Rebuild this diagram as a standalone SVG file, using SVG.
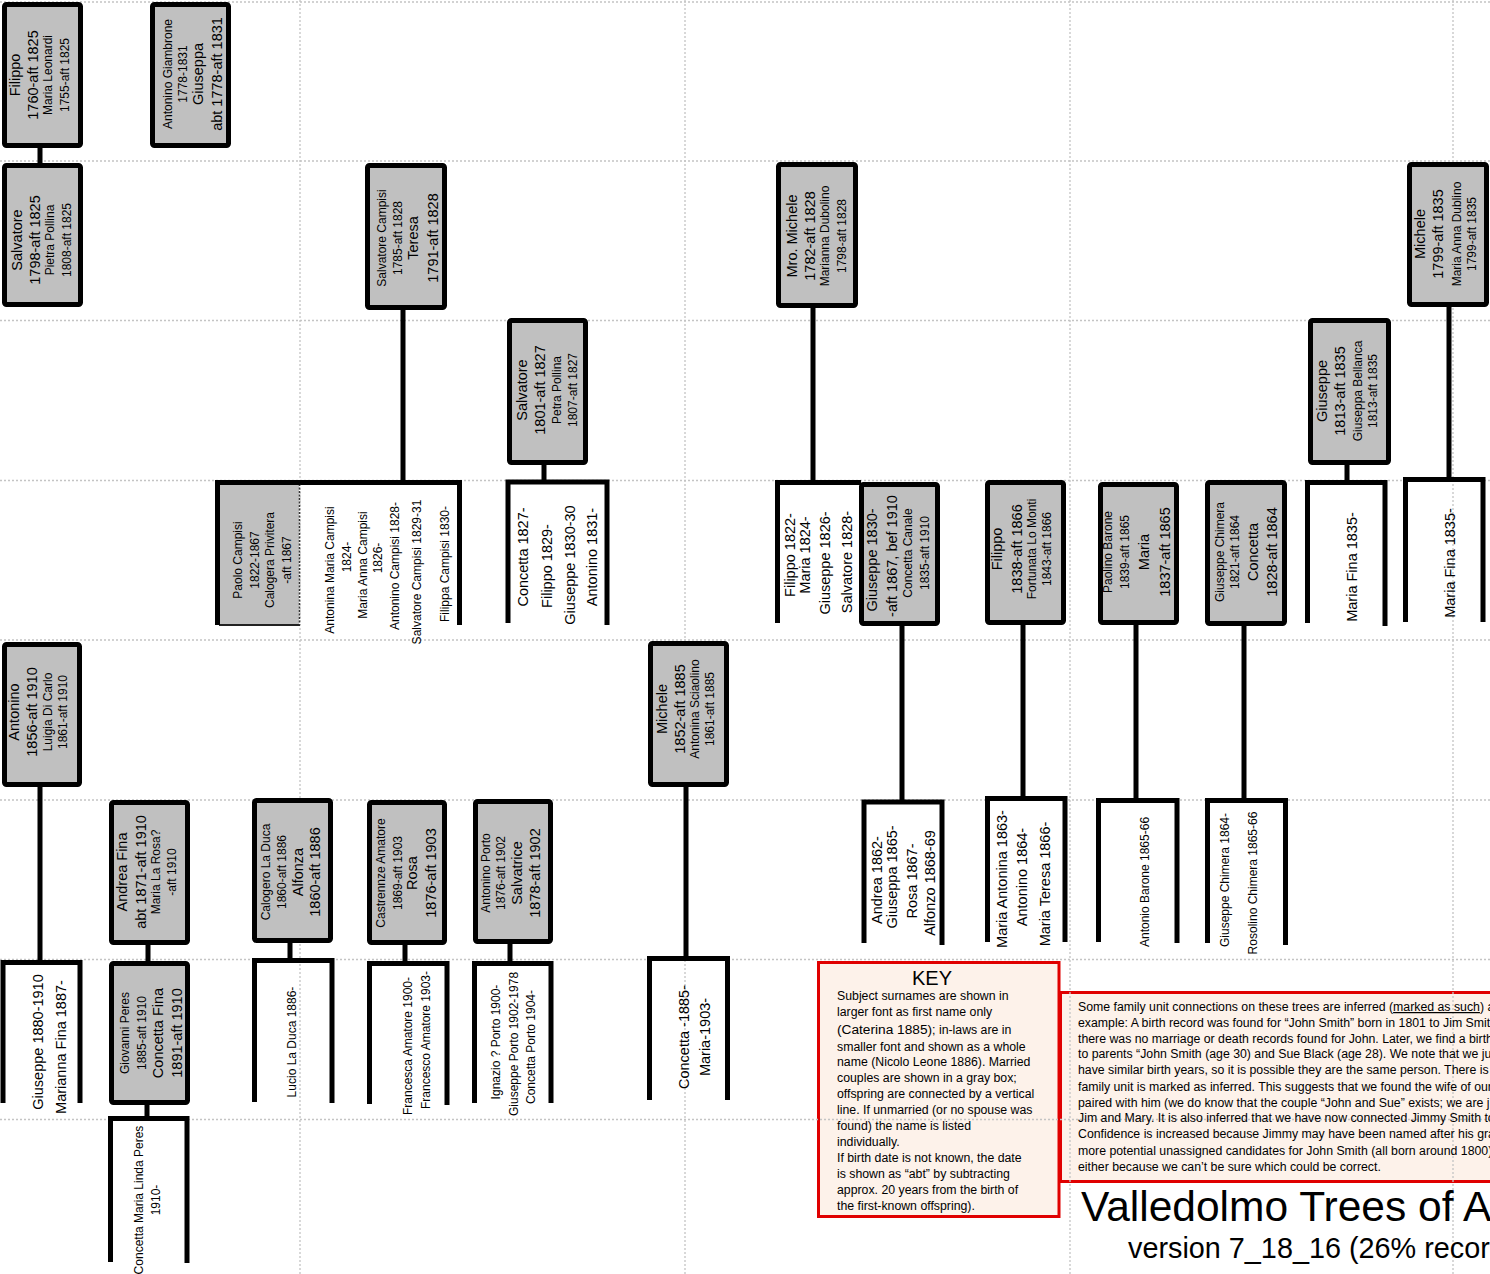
<svg xmlns="http://www.w3.org/2000/svg" width="1490" height="1274" viewBox="0 0 1490 1274">
<style>
.grid{stroke:#c4c4c4;stroke-width:1.3;stroke-dasharray:2 2;fill:none}
.box{fill:#c0c0c0;stroke:#000;stroke-width:5}
.c{stroke:#000;stroke-width:5;fill:none;stroke-linejoin:miter}
text{font-family:"Liberation Sans",Arial,sans-serif;fill:#000}
.L{font-size:14.5px;text-anchor:middle}
.S{font-size:12px;text-anchor:middle}
.k{font-size:12.3px}
.panel{fill:#fdf2ea;stroke:#e00000;stroke-width:3}
</style>
<rect width="1490" height="1274" fill="#fff"/>
<g id="key-panels">
<rect class="panel" x="818.5" y="962.5" width="240.5" height="254"/>
<rect class="panel" x="1060.5" y="992.5" width="440" height="189"/>
</g>
<g id="grid">
<path class="grid" d="M0 2H1490M0 161H1490M0 320.5H1490M0 480.5H1490M0 640H1490M0 800H1490M0 959.5H1490M0 1119.5H1490"/>
<path class="grid" d="M300 0V1274M685 0V1274M1070 0V1274M1453 0V1274"/>
</g>
<g id="key-text">
<text x="932" y="985" font-size="20" text-anchor="middle">KEY</text>
<text class="k" x="837" y="1000">Subject surnames are shown in</text>
<text class="k" x="837" y="1016">larger font as first name only</text>
<text class="k" x="837" y="1034"><tspan font-size="13.7">(Caterina 1885)</tspan>; in-laws are in</text>
<text class="k" x="837" y="1051">smaller font and shown as a whole</text>
<text class="k" x="837" y="1066">name (Nicolo Leone 1886). Married</text>
<text class="k" x="837" y="1082">couples are shown in a gray box;</text>
<text class="k" x="837" y="1098">offspring are connected by a vertical</text>
<text class="k" x="837" y="1114">line. If unmarried (or no spouse was</text>
<text class="k" x="837" y="1130">found) the name is listed</text>
<text class="k" x="837" y="1146">individually.</text>
<text class="k" x="837" y="1162">If birth date is not known, the date</text>
<text class="k" x="837" y="1178">is shown as “abt” by subtracting</text>
<text class="k" x="837" y="1194">approx. 20 years from the birth of</text>
<text class="k" x="837" y="1210">the first-known offspring).</text>
</g>
<g id="notes-text">
<text class="k" x="1078" y="1011">Some family unit connections on these trees are inferred (<tspan text-decoration="underline">marked as such</tspan>) a</text>
<text class="k" x="1078" y="1027">example: A birth record was found for “John Smith” born in 1801 to Jim Smit</text>
<text class="k" x="1078" y="1043">there was no marriage or death records found for John. Later, we find a birth</text>
<text class="k" x="1078" y="1058">to parents “John Smith (age 30) and Sue Black (age 28). We note that we just</text>
<text class="k" x="1078" y="1074">have similar birth years, so it is possible they are the same person. There is n</text>
<text class="k" x="1078" y="1091">family unit is marked as inferred. This suggests that we found the wife of our</text>
<text class="k" x="1078" y="1107">paired with him (we do know that the couple “John and Sue” exists; we are j</text>
<text class="k" x="1078" y="1122">Jim and Mary. It is also inferred that we have now connected Jimmy Smith to</text>
<text class="k" x="1078" y="1138">Confidence is increased because Jimmy may have been named after his gran</text>
<text class="k" x="1078" y="1155">more potential unassigned candidates for John Smith (all born around 1800)</text>
<text class="k" x="1078" y="1171">either because we can’t be sure which could be correct.</text>
</g>
<g id="title">
<text x="1081" y="1221" font-size="42.5">Valledolmo Trees of A</text>
<text x="1128" y="1258" font-size="28.8">version 7_18_16 (26% recor</text>
</g>

<g id="connectors">
<path class="c" d="M40 147V165M403 308V482M544 463V482M813 306V482M1449 305V479M1347 463V482M902 624V802M1023 623V798M1136 623V800M1244 624V800M40 785V962M686 785V958M148 943V963M290 941V960M405 943V963M510 942V963M147 1103V1118"/>
<path class="c" d="M217.5 625V482.5H459.5V625"/>
<path class="c" d="M508 623V482H607V625"/>
<path class="c" d="M777.5 623V482.5H861"/>
<path class="c" d="M1307.5 623V482.5H1385V626"/>
<path class="c" d="M1405.5 622V479.5H1483V622"/>
<path class="c" d="M864 943V802H942V945"/>
<path class="c" d="M987.5 942V798.5H1065V942"/>
<path class="c" d="M1098.5 942V800.5H1177V943"/>
<path class="c" d="M1207.5 943V800.5H1285.5V945"/>
<path class="c" d="M3 1103V962.5H80V1103"/>
<path class="c" d="M110.5 1262V1118.5H187V1263"/>
<path class="c" d="M254.5 1102V960.5H332V1103"/>
<path class="c" d="M369.5 1104V963.5H447V1105"/>
<path class="c" d="M474.5 1103V963.5H551V1103"/>
<path class="c" d="M649.5 1100V958.5H727.5V1100"/>
</g>

<g id="n-filippo-1760">
<rect class="box" x="4.5" y="4.5" width="76" height="141" rx="2"/>
<text class="L" transform="translate(20 75) rotate(-90)">Filippo</text>
<text class="L" transform="translate(38 75) rotate(-90)">1760-aft 1825</text>
<text class="S" transform="translate(52 75) rotate(-90)">Maria Leonardi</text>
<text class="S" transform="translate(69 75) rotate(-90)">1755-aft 1825</text>
</g>
<g id="n-antonino-giambrone">
<rect class="box" x="152.5" y="4.5" width="76" height="141" rx="2"/>
<text class="S" transform="translate(172 74) rotate(-90)">Antonino Giambrone</text>
<text class="S" transform="translate(187 74) rotate(-90)">1778-1831</text>
<text class="L" transform="translate(203 74) rotate(-90)">Giuseppa</text>
<text class="L" transform="translate(222 74) rotate(-90)">abt 1778-aft 1831</text>
</g>
<g id="n-salvatore-1798">
<rect class="box" x="4.5" y="165.5" width="76" height="139" rx="2"/>
<text class="L" transform="translate(22 240) rotate(-90)">Salvatore</text>
<text class="L" transform="translate(40 240) rotate(-90)">1798-aft 1825</text>
<text class="S" transform="translate(54 240) rotate(-90)">Pietra Pollina</text>
<text class="S" transform="translate(71 240) rotate(-90)">1808-aft 1825</text>
</g>
<g id="n-salvatore-campisi">
<rect class="box" x="367.5" y="165.5" width="77" height="142" rx="2"/>
<text class="S" transform="translate(386 238) rotate(-90)">Salvatore Campisi</text>
<text class="S" transform="translate(402 238) rotate(-90)">1785-aft 1828</text>
<text class="L" transform="translate(418 238) rotate(-90)">Teresa</text>
<text class="L" transform="translate(438 238) rotate(-90)">1791-aft 1828</text>
</g>
<g id="n-salvatore-1801">
<rect class="box" x="509.5" y="320.5" width="76" height="142" rx="2"/>
<text class="L" transform="translate(527 390) rotate(-90)">Salvatore</text>
<text class="L" transform="translate(545 390) rotate(-90)">1801-aft 1827</text>
<text class="S" transform="translate(561 390) rotate(-90)">Petra Pollina</text>
<text class="S" transform="translate(577 390) rotate(-90)">1807-aft 1827</text>
</g>
<g id="n-mro-michele">
<rect class="box" x="778.5" y="164.5" width="77" height="141" rx="2"/>
<text class="L" transform="translate(797 236) rotate(-90)">Mro. Michele</text>
<text class="L" transform="translate(815 236) rotate(-90)">1782-aft 1828</text>
<text class="S" transform="translate(829 236) rotate(-90)">Marianna Dubolino</text>
<text class="S" transform="translate(846 236) rotate(-90)">1798-aft 1828</text>
</g>
<g id="n-michele-1799">
<rect class="box" x="1409.5" y="164.5" width="77" height="140" rx="2"/>
<text class="L" transform="translate(1425 234) rotate(-90)">Michele</text>
<text class="L" transform="translate(1443 234) rotate(-90)">1799-aft 1835</text>
<text class="S" transform="translate(1461 234) rotate(-90)">Maria Anna Dublino</text>
<text class="S" transform="translate(1476 234) rotate(-90)">1799-aft 1835</text>
</g>
<g id="n-giuseppe-1813">
<rect class="box" x="1310.5" y="320.5" width="78" height="142" rx="2"/>
<text class="L" transform="translate(1327 391) rotate(-90)">Giuseppe</text>
<text class="L" transform="translate(1345 391) rotate(-90)">1813-aft 1835</text>
<text class="S" transform="translate(1362 391) rotate(-90)">Giuseppa Bellanca</text>
<text class="S" transform="translate(1377 391) rotate(-90)">1813-aft 1835</text>
</g>

<g id="n-paolo-campisi">
<rect x="219" y="484" width="80" height="141" fill="#c0c0c0"/>
<path d="M219 625H300" stroke="#222" stroke-width="2"/>
<path d="M299.5 484V625" stroke="#333" stroke-width="1.5" stroke-dasharray="2 1.5"/>
<path class="c" d="M217.5 625V482.5H300"/>
<text class="S" transform="translate(242 560) rotate(-90)">Paolo Campisi</text>
<text class="S" transform="translate(259 560) rotate(-90)">1822-1867</text>
<text class="S" transform="translate(274 560) rotate(-90)">Calogera Privitera</text>
<text class="S" transform="translate(291 560) rotate(-90)">-aft 1867</text>
</g>
<g id="n-campisi-children">
<text class="S" transform="translate(334 570) rotate(-90)">Antonina Maria Campisi</text>
<text class="S" transform="translate(351 557) rotate(-90)">1824-</text>
<text class="S" transform="translate(367 565) rotate(-90)">Maria Anna Campisi</text>
<text class="S" transform="translate(382 558) rotate(-90)">1826-</text>
<text class="S" transform="translate(399 566) rotate(-90)">Antonino Campisi 1828-</text>
<text class="S" transform="translate(421 572) rotate(-90)">Salvatore Campisi 1829-31</text>
<text class="S" transform="translate(449 564) rotate(-90)">Filippa Campisi 1830-</text>
</g>
<g id="n-salvatore1801-children">
<text class="L" transform="translate(528 557) rotate(-90)">Concetta 1827-</text>
<text class="L" transform="translate(552 566) rotate(-90)">Filippo 1829-</text>
<text class="L" transform="translate(575 565) rotate(-90)">Giuseppe 1830-30</text>
<text class="L" transform="translate(597 557) rotate(-90)">Antonino 1831-</text>
</g>
<g id="n-michele1782-children">
<text class="L" transform="translate(795 555) rotate(-90)">Filippo 1822-</text>
<text class="L" transform="translate(810 555) rotate(-90)">Maria 1824-</text>
<text class="L" transform="translate(830 563) rotate(-90)">Giuseppe 1826-</text>
<text class="L" transform="translate(852 562) rotate(-90)">Salvatore 1828-</text>
</g>
<g id="n-giuseppe-1830">
<rect class="box" x="861.5" y="484.5" width="76" height="139" rx="2"/>
<text class="L" transform="translate(877 560) rotate(-90)">Giuseppe 1830-</text>
<text class="L" transform="translate(897 556) rotate(-90)">-aft 1867, bef 1910</text>
<text class="S" transform="translate(912 553) rotate(-90)">Concetta Canale</text>
<text class="S" transform="translate(929 553) rotate(-90)">1835-aft 1910</text>
</g>
<g id="n-filippo-1838">
<rect class="box" x="987.5" y="482.5" width="76" height="140" rx="2"/>
<text class="L" transform="translate(1002 549) rotate(-90)">Filippo</text>
<text class="L" transform="translate(1022 549) rotate(-90)">1838-aft 1866</text>
<text class="S" transform="translate(1036 549) rotate(-90)">Fortunata Lo Monti</text>
<text class="S" transform="translate(1051 549) rotate(-90)">1843-aft 1866</text>
</g>
<g id="n-paolino-barone">
<rect class="box" x="1100.5" y="484.5" width="76" height="138" rx="2"/>
<text class="S" transform="translate(1112 552) rotate(-90)">Paolino Barone</text>
<text class="S" transform="translate(1129 552) rotate(-90)">1839-aft 1865</text>
<text class="L" transform="translate(1149 552) rotate(-90)">Maria</text>
<text class="L" transform="translate(1170 552) rotate(-90)">1837-aft 1865</text>
</g>
<g id="n-giuseppe-chimera">
<rect class="box" x="1207.5" y="482.5" width="77" height="141" rx="2"/>
<text class="S" transform="translate(1224 552) rotate(-90)">Giuseppe Chimera</text>
<text class="S" transform="translate(1239 552) rotate(-90)">1821-aft 1864</text>
<text class="L" transform="translate(1258 552) rotate(-90)">Concetta</text>
<text class="L" transform="translate(1277 552) rotate(-90)">1828-aft 1864</text>
</g>
<g id="n-maria-fina-a">
<text class="L" transform="translate(1357 567) rotate(-90)">Maria Fina 1835-</text>
</g>
<g id="n-maria-fina-b">
<text class="L" transform="translate(1455 563) rotate(-90)">Maria Fina 1835-</text>
</g>

<g id="n-antonino-1856">
<rect class="box" x="4.5" y="644.5" width="75" height="140" rx="2"/>
<text class="L" transform="translate(19 712) rotate(-90)">Antonino</text>
<text class="L" transform="translate(37 712) rotate(-90)">1856-aft 1910</text>
<text class="S" transform="translate(52 712) rotate(-90)">Luigia Di Carlo</text>
<text class="S" transform="translate(67 712) rotate(-90)">1861-aft 1910</text>
</g>
<g id="n-michele-1852">
<rect class="box" x="650.5" y="643.5" width="76" height="141" rx="2"/>
<text class="L" transform="translate(667 709) rotate(-90)">Michele</text>
<text class="L" transform="translate(685 709) rotate(-90)">1852-aft 1885</text>
<text class="S" transform="translate(699 709) rotate(-90)">Antonina Sciaolino</text>
<text class="S" transform="translate(714 709) rotate(-90)">1861-aft 1885</text>
</g>

<g id="n-andrea-fina">
<rect class="box" x="111.5" y="802.5" width="76" height="140" rx="2"/>
<text class="L" transform="translate(127 872) rotate(-90)">Andrea Fina</text>
<text class="L" transform="translate(146 872) rotate(-90)">abt 1871-aft 1910</text>
<text class="S" transform="translate(160 872) rotate(-90)">Maria La Rosa?</text>
<text class="S" transform="translate(176 872) rotate(-90)">-aft 1910</text>
</g>
<g id="n-calogero-la-duca">
<rect class="box" x="254.5" y="800.5" width="76" height="140" rx="2"/>
<text class="S" transform="translate(270 872) rotate(-90)">Calogero La Duca</text>
<text class="S" transform="translate(286 872) rotate(-90)">1860-aft 1886</text>
<text class="L" transform="translate(303 872) rotate(-90)">Alfonza</text>
<text class="L" transform="translate(320 872) rotate(-90)">1860-aft 1886</text>
</g>
<g id="n-castrennze-amatore">
<rect class="box" x="369.5" y="802.5" width="75" height="140" rx="2"/>
<text class="S" transform="translate(385 873) rotate(-90)">Castrennze Amatore</text>
<text class="S" transform="translate(402 873) rotate(-90)">1869-aft 1903</text>
<text class="L" transform="translate(417 873) rotate(-90)">Rosa</text>
<text class="L" transform="translate(436 873) rotate(-90)">1876-aft 1903</text>
</g>
<g id="n-antonino-porto">
<rect class="box" x="475.5" y="801.5" width="75" height="140" rx="2"/>
<text class="S" transform="translate(490 873) rotate(-90)">Antonino Porto</text>
<text class="S" transform="translate(505 873) rotate(-90)">1876-aft 1902</text>
<text class="L" transform="translate(522 873) rotate(-90)">Salvatrice</text>
<text class="L" transform="translate(540 873) rotate(-90)">1878-aft 1902</text>
</g>
<g id="n-giuseppe1830-children">
<text class="L" transform="translate(882 880) rotate(-90)">Andrea 1862-</text>
<text class="L" transform="translate(897 877) rotate(-90)">Giuseppa 1865-</text>
<text class="L" transform="translate(917 881) rotate(-90)">Rosa 1867-</text>
<text class="L" transform="translate(935 883) rotate(-90)">Alfonzo 1868-69</text>
</g>
<g id="n-filippo1838-children">
<text class="L" transform="translate(1007 879) rotate(-90)">Maria Antonina 1863-</text>
<text class="L" transform="translate(1027 877) rotate(-90)">Antonino 1864-</text>
<text class="L" transform="translate(1050 884) rotate(-90)">Maria Teresa 1866-</text>
</g>
<g id="n-barone-children">
<text class="S" transform="translate(1149 882) rotate(-90)">Antonio Barone 1865-66</text>
</g>
<g id="n-chimera-children">
<text class="S" transform="translate(1229 880) rotate(-90)">Giuseppe Chimera 1864-</text>
<text class="S" transform="translate(1257 883) rotate(-90)">Rosolino Chimera 1865-66</text>
</g>

<g id="n-antonino1856-children">
<text class="L" transform="translate(43 1042) rotate(-90)">Giuseppe 1880-1910</text>
<text class="L" transform="translate(66 1047) rotate(-90)">Marianna Fina 1887-</text>
</g>
<g id="n-giovanni-peres">
<rect class="box" x="111.5" y="963.5" width="76" height="139" rx="2"/>
<text class="S" transform="translate(129 1033) rotate(-90)">Giovanni Peres</text>
<text class="S" transform="translate(145.5 1033) rotate(-90)">1885-aft 1910</text>
<text class="L" transform="translate(163 1033) rotate(-90)">Concetta Fina</text>
<text class="L" transform="translate(182 1033) rotate(-90)">1891-aft 1910</text>
</g>
<g id="n-peres-children">
<text class="S" transform="translate(143 1200) rotate(-90)">Concetta Maria Linda Peres</text>
<text class="S" transform="translate(160 1200) rotate(-90)">1910-</text>
</g>
<g id="n-laduca-children">
<text class="S" transform="translate(296 1042) rotate(-90)">Lucio La Duca 1886-</text>
</g>
<g id="n-amatore-children">
<text class="S" transform="translate(412 1046) rotate(-90)">Francesca Amatore 1900-</text>
<text class="S" transform="translate(430 1040) rotate(-90)">Francesco Amatore 1903-</text>
</g>
<g id="n-porto-children">
<text class="S" transform="translate(500 1042) rotate(-90)">Ignazio ? Porto 1900-</text>
<text class="S" transform="translate(518 1044) rotate(-90)">Giuseppe Porto 1902-1978</text>
<text class="S" transform="translate(535 1047) rotate(-90)">Concetta Porto 1904-</text>
</g>
<g id="n-michele1852-children">
<text class="L" transform="translate(689 1037) rotate(-90)">Concetta -1885-</text>
<text class="L" transform="translate(710 1037) rotate(-90)">Maria-1903-</text>
</g>
</svg>
